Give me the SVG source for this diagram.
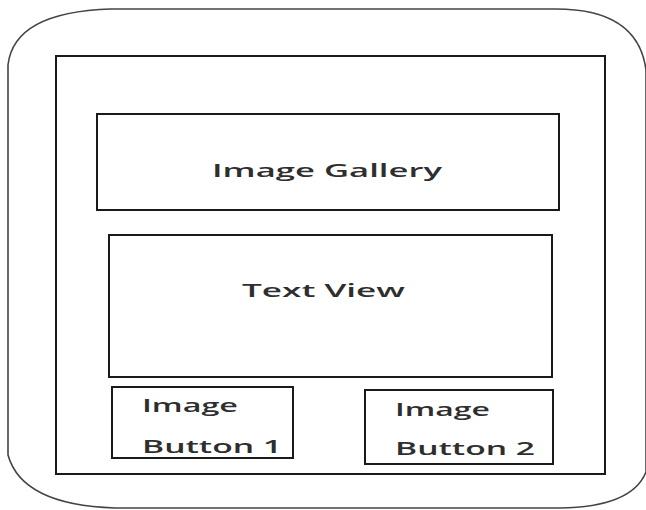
<svg xmlns="http://www.w3.org/2000/svg" width="646" height="510" viewBox="0 0 646 510">
<style>
.box{fill:none;stroke:#1a1a1a;stroke-width:2}
.lbl{font-family:"Open Sans","Liberation Sans",sans-serif;font-size:18.5px;font-weight:600;fill:#2e2e2e}
</style>
<rect width="646" height="510" fill="#fff"/>
<g id="phone">
<path d="M111,9 L556,9 Q638,9 646,70 L646,472 Q632,507 560,508 L115,508 Q22,505 8,455 L8,65 Q14,12 111,9 Z" fill="none" stroke="#444" stroke-width="1.6"/>
</g>
<g id="screen"><rect class="box" x="56" y="56" width="549" height="418"/></g>
<g id="image-gallery"><rect class="box" x="97" y="114" width="462" height="96"/><text class="lbl" transform="translate(212,177) scale(2,1)" textLength="115" lengthAdjust="spacingAndGlyphs">Image Gallery</text></g>
<g id="text-view"><rect class="box" x="109" y="235" width="443" height="142"/><text class="lbl" transform="translate(242,297) scale(2,1)" textLength="81.5" lengthAdjust="spacingAndGlyphs">Text View</text></g>
<g id="button1"><rect class="box" x="112" y="387" width="181" height="71"/><text class="lbl" transform="translate(142,412) scale(2,1)" textLength="48" lengthAdjust="spacingAndGlyphs">Image</text><text class="lbl" transform="translate(142,453) scale(2,1)" textLength="70" lengthAdjust="spacingAndGlyphs">Button 1</text></g>
<g id="button2"><rect class="box" x="365" y="390" width="188" height="74"/><text class="lbl" transform="translate(395,416) scale(2,1)" textLength="47.5" lengthAdjust="spacingAndGlyphs">Image</text><text class="lbl" transform="translate(395,455) scale(2,1)" textLength="70" lengthAdjust="spacingAndGlyphs">Button 2</text></g>
<g id="connectors"/>
</svg>
